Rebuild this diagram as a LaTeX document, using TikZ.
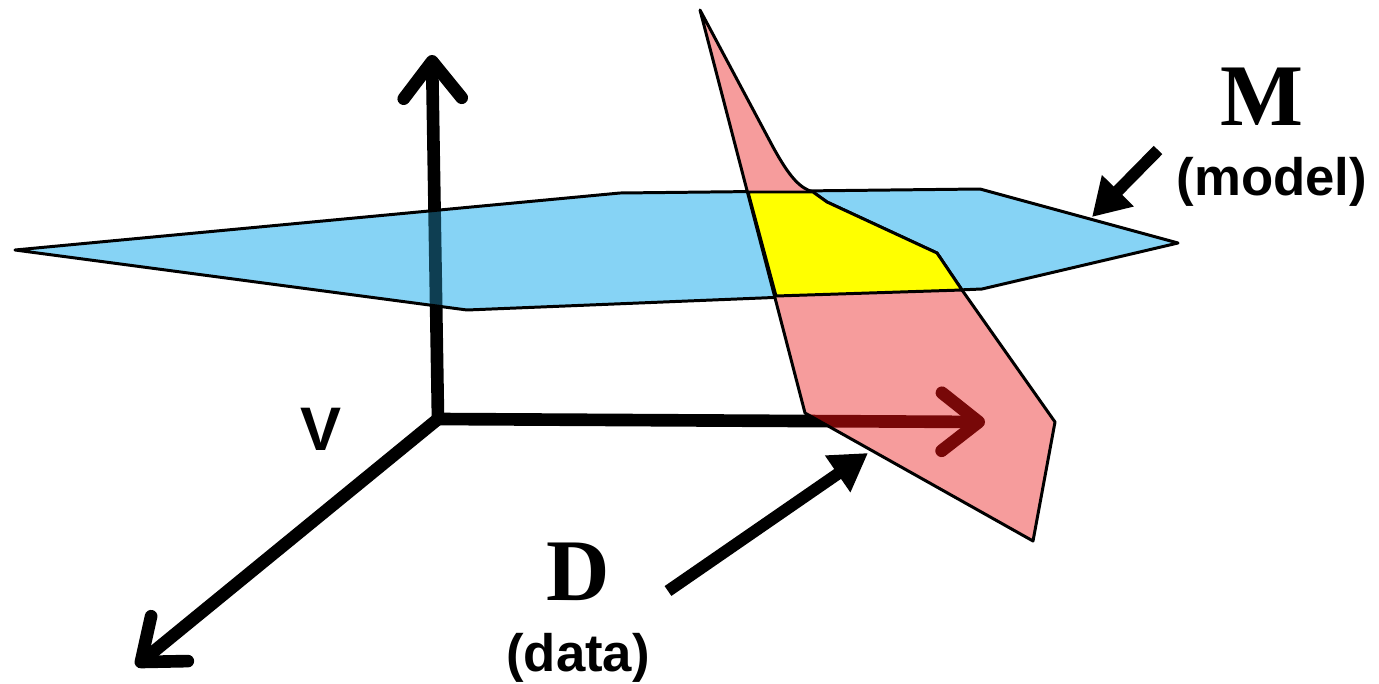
\documentclass[tikz,border=0pt]{standalone}
\usepackage{fontspec}
\setmainfont{Liberation Sans}
\newfontfamily\romanfont{Liberation Serif}
\usetikzlibrary{arrows.meta}
\definecolor{mdblue}{HTML}{86D3F5}
\definecolor{mddark}{HTML}{0E3E52}
\definecolor{dtred}{HTML}{F69C9C}
\definecolor{dtdark}{HTML}{780808}
\definecolor{ovyel}{HTML}{FFFF00}
\tikzset{
  axisarr/.style={line width=7.2pt,-{Straight Barb[length=21pt,width=33pt,round]}},
  axisbar/.style={line width=7.2pt},
  plane/.style={draw=black,line width=1.7pt,line join=round},
  ptr/.style={line width=6.8pt,-{Triangle[length=21pt,width=24pt]}},
  biglbl/.style={inner sep=0pt,font=\romanfont\bfseries\fontsize{50}{52}\selectfont},
  smalllbl/.style={inner sep=0pt,font=\bfseries\fontsize{30}{32}\selectfont},
}
\newcommand{\modelplane}{(15,250) -- (620,193) -- (980,189) -- (1178,243) -- (982,289) -- (467,310) -- cycle}
\newcommand{\dataplane}{(700,10) -- (773,147) .. controls (790,178) and (800,188) .. (813,192) -- (827,202) -- (937,253) -- (962,290) -- (1055,422) -- (1033,541) -- (805,413) -- cycle}

\begin{document}
\begin{tikzpicture}[x=0.02cm,y=-0.02cm]
  \useasboundingbox (0,0) rectangle (1379,683);

  % axes
  \coordinate (O) at (438,419);
  \coordinate (ytip) at (432,55);
  \coordinate (xtip) at (985,422);
  \coordinate (ztip) at (136,666);
  \draw[axisarr] (O) -- (ytip);
  \draw[axisarr] (O) -- (xtip);
  \draw[axisarr] (O) -- (ztip);

  % model plane
  \fill[mdblue] \modelplane;
  \begin{scope}
    \clip \modelplane;
    \draw[axisbar,draw=mddark] (O) -- (ytip);
  \end{scope}
  \draw[plane] \modelplane;

  % data plane
  \fill[dtred] \dataplane;
  \begin{scope}
    \clip \dataplane;
    \draw[axisarr,draw=dtdark] (O) -- (xtip);
  \end{scope}
  \draw[plane] \dataplane;

  % overlap
  \filldraw[fill=ovyel,plane] (748,192) -- (813,192) -- (827,202) -- (937,253)
    -- (962,290) -- (776,296) -- cycle;

  % labels
  \node[biglbl] (M) at (1262,97) {M};
  \node[smalllbl] (model) at (1272,182) {(model)};
  \node[biglbl] (D) at (578,572) {D};
  \node[smalllbl] (data) at (578,658) {(data)};
  \node[smalllbl,font=\bfseries\fontsize{35}{37}\selectfont] (V) at (321,429) {V};

  % pointers
  \coordinate (mfoot) at (1158,150);
  \coordinate (mtip) at (1092,217);
  \coordinate (dfoot) at (668,591);
  \coordinate (dtip) at (868,453);
  \draw[ptr] (mfoot) -- (mtip);
  \draw[ptr] (dfoot) -- (dtip);
\end{tikzpicture}
\end{document}
